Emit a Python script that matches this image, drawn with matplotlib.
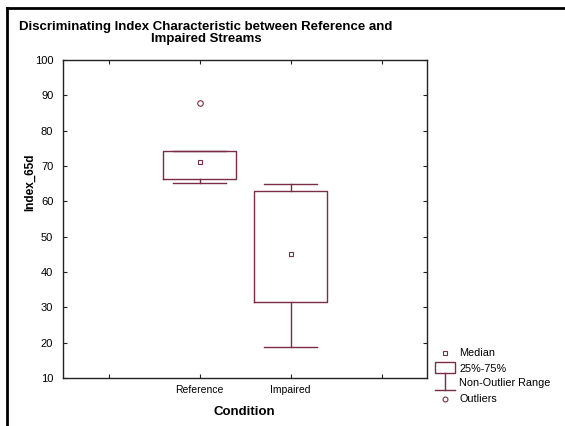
import matplotlib.pyplot as plt
from matplotlib.lines import Line2D
from matplotlib.patches import Rectangle

conditions = ["Reference", "Impaired"]
medians = [71.2, 45.1]
q1 = [66.3, 31.6]
q3 = [74.2, 63.0]
whisker_lo = [65.1, 18.9]
whisker_hi = [74.2, 65.0]
outliers = [[87.7], []]

W, H = 565, 426
box_col = "#7a2d45"
plt.rcParams["font.family"] = ["Liberation Sans", "DejaVu Sans"]

fig = plt.figure(figsize=(W / 100, H / 100), dpi=100)
ax = fig.add_axes([63 / W, 1 - 378 / H, (427 - 63) / W, (378 - 60) / H])

pos = [2, 3]
stats = []
for i, name in enumerate(conditions):
    stats.append(dict(label=name, med=medians[i], q1=q1[i], q3=q3[i],
                      whislo=whisker_lo[i], whishi=whisker_hi[i], fliers=outliers[i]))

ax.bxp(stats, positions=pos, widths=0.8, capwidths=0.58, showfliers=True,
       boxprops=dict(color=box_col, lw=1),
       whiskerprops=dict(color=box_col, lw=1),
       capprops=dict(color=box_col, lw=1),
       medianprops=dict(visible=False),
       flierprops=dict(marker="o", markersize=4, markerfacecolor="white",
                       markeredgecolor=box_col, markeredgewidth=0.8))
ax.plot(pos, medians, ls="none", marker="s", markersize=3.5,
        markerfacecolor="white", markeredgecolor=box_col, markeredgewidth=0.8)

ax.set_xlim(0.5, 4.5)
ax.set_ylim(10, 100)
ax.set_xticks([1, 2, 3, 4])
ax.set_xticklabels(["", "Reference", "Impaired", ""], fontsize=7.5)
ax.set_yticks(range(10, 101, 10))
ax.tick_params(axis="y", labelsize=8, pad=7)
ax.tick_params(axis="x", pad=5)
ax.tick_params(direction="in", length=3, width=0.8, top=True, right=True, color="#222")
for s in ax.spines.values():
    s.set_color("#222")
    s.set_linewidth(1)

fig.text(30 / W, 1 - 182 / H, "Index_65d", rotation=90, ha="center", va="center",
         fontsize=8.5, fontweight="bold")
fig.text(244 / W, 1 - 412 / H, "Condition", ha="center", va="center",
         fontsize=9.5, fontweight="bold")
fig.text(206 / W, 1 - 33 / H,
         "Discriminating Index Characteristic between Reference and\nImpaired Streams",
         ha="center", va="center", fontsize=9.5, fontweight="bold",
         family=["Liberation Sans Narrow", "Liberation Sans", "DejaVu Sans"],
         linespacing=1.1)

# legend drawn in pixel coordinates
lg = fig.add_axes([0, 0, 1, 1], facecolor="none")
lg.set_xlim(0, W)
lg.set_ylim(H, 0)
lg.axis("off")
lg.plot([445], [353], marker="s", markersize=3.5, markerfacecolor="white",
        markeredgecolor=box_col, markeredgewidth=0.8)
lg.add_patch(Rectangle((435, 362), 20, 11, fill=False, edgecolor=box_col, lw=1))
lg.add_line(Line2D([445, 445], [373, 390], color=box_col, lw=1))
lg.add_line(Line2D([435, 455], [390, 390], color=box_col, lw=1))
lg.plot([445], [399], marker="o", markersize=3.5, markerfacecolor="white",
        markeredgecolor=box_col, markeredgewidth=0.8)
for y, txt in [(353, "Median"), (369, "25%-75%"), (383, "Non-Outlier Range"), (399, "Outliers")]:
    lg.text(459, y, txt, fontsize=7.8, va="center", ha="left")

# outer frame
lg.add_line(Line2D([7, 7], [8, H], color="black", lw=2))
lg.add_line(Line2D([7, W], [8, 8], color="black", lw=2))

fig.savefig("out.png", dpi=100, facecolor="white")
